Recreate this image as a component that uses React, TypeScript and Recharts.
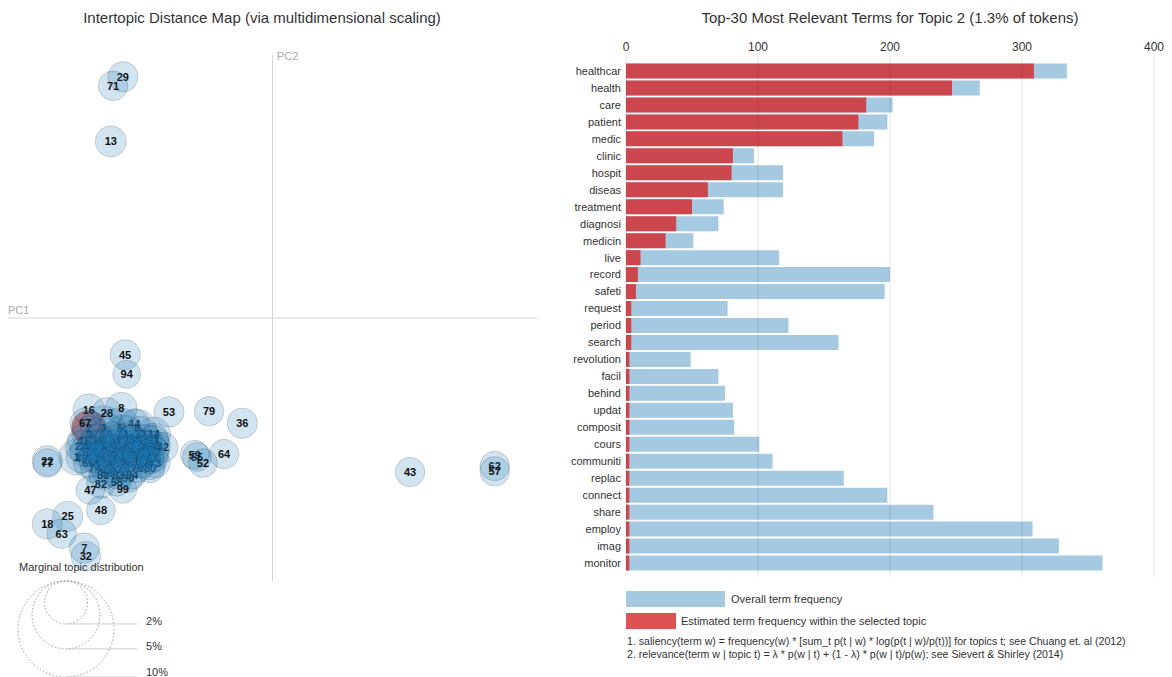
import React from 'react';
import { ScatterChart, Scatter, XAxis, YAxis, ZAxis, ReferenceLine, BarChart, Bar } from 'recharts';

const FONT = '"Liberation Sans", Arial, sans-serif';

// ---- intertopic distance map ----
// selected topic
const SELECTED = 2;
const selIds = [2];
const selPc1 = [-0.243];
const selPc2 = [-0.146];
const selShare = [1.3];

// topics touching the dense cluster (drawn before it)
const edgeIds = [1, 4, 31, 42, 66, 90, 82, 58, 99, 44];
const edgePc1 = [-0.259, -0.163, -0.158, -0.145, -0.219, -0.191, -0.227, -0.206, -0.198, -0.183];
const edgePc2 = [-0.185, -0.193, -0.16, -0.172, -0.206, -0.213, -0.221, -0.218, -0.228, -0.141];
const edgeShare = [1.4, 1.2, 1.0, 1.0, 0.9, 0.9, 0.9, 0.9, 0.85, 1.0];

// the dense cluster around (-0.2, -0.18)
const coreIds = [
  3, 5, 6, 9, 10, 11, 12, 14, 15, 17, 19, 20, 21, 23, 24, 26, 27, 30, 33, 34,
  35, 37, 38, 39, 40, 41, 46, 49, 50, 51, 54, 56, 60, 61, 65, 68, 69, 70, 72, 73,
  74, 75, 76, 78, 80, 81, 83, 84, 85, 86, 87, 88, 89, 91, 92, 93, 95, 96, 97, 98, 100,
];
const corePc1 = [
  -0.224, -0.202, -0.179, -0.242, -0.22, -0.197, -0.175, -0.157, -0.249, -0.231,
  -0.21, -0.19, -0.168, -0.158, -0.253, -0.237, -0.218, -0.199, -0.181, -0.162,
  -0.155, -0.248, -0.23, -0.213, -0.195, -0.175, -0.157, -0.253, -0.237, -0.22,
  -0.203, -0.186, -0.168, -0.158, -0.244, -0.227, -0.209, -0.19, -0.172, -0.155,
  -0.235, -0.216, -0.197, -0.179, -0.162, -0.224, -0.204, -0.186, -0.227, -0.204,
  -0.172, -0.242, -0.189, -0.168, -0.227, -0.181, -0.214, -0.197, -0.162, -0.21, -0.186,
];
const corePc2 = [
  -0.147, -0.147, -0.147, -0.154, -0.154, -0.154, -0.154, -0.154, -0.164, -0.164,
  -0.164, -0.164, -0.164, -0.164, -0.171, -0.171, -0.171, -0.171, -0.171, -0.171,
  -0.171, -0.178, -0.178, -0.178, -0.178, -0.178, -0.178, -0.186, -0.186, -0.186,
  -0.186, -0.186, -0.186, -0.186, -0.193, -0.193, -0.193, -0.193, -0.193, -0.193,
  -0.2, -0.2, -0.2, -0.2, -0.2, -0.209, -0.209, -0.209, -0.167, -0.167,
  -0.167, -0.175, -0.175, -0.175, -0.182, -0.182, -0.189, -0.189, -0.189, -0.16, -0.16,
];
const coreShare = [
  2.2, 1.9, 1.6, 1.4, 1.8, 1.5, 1.3, 1.2, 1.2, 1.3,
  1.6, 1.2, 1.2, 1.1, 1.1, 1.1, 1.4, 1.8, 1.2, 1.1,
  1.0, 1.0, 1.0, 1.3, 1.0, 1.1, 1.0, 1.0, 1.0, 1.0,
  1.0, 1.0, 0.95, 0.95, 0.95, 0.95, 0.95, 0.95, 0.95, 0.95,
  0.9, 0.9, 0.9, 0.9, 0.9, 0.9, 0.9, 0.85, 0.85, 0.85,
  0.85, 0.85, 0.85, 0.85, 0.85, 0.8, 0.8, 0.8, 0.8, 0.8, 0.8,
];

// outlying topics (drawn last)
const outerIds = [16, 28, 8, 67, 29, 71, 13, 45, 94, 53, 79, 36, 55, 59, 52, 64, 22, 77, 47, 48, 25, 18, 63, 7, 32, 43, 62, 57];
const outerPc1 = [
  -0.243, -0.219, -0.2, -0.248, -0.198, -0.211, -0.214, -0.195, -0.193, -0.137,
  -0.084, -0.04, -0.1, -0.103, -0.092, -0.064, -0.298, -0.298, -0.241, -0.227,
  -0.271, -0.298, -0.279, -0.249, -0.247, 0.182, 0.294, 0.294,
];
const outerPc2 = [
  -0.122, -0.126, -0.12, -0.14, 0.321, 0.309, 0.235, -0.049, -0.075, -0.125,
  -0.124, -0.14, -0.185, -0.182, -0.193, -0.181, -0.19, -0.193, -0.229, -0.256,
  -0.264, -0.274, -0.287, -0.306, -0.317, -0.205, -0.197, -0.204,
];
const outerShare = [
  1.1, 1.0, 1.1, 1.0, 1.0, 0.95, 1.05, 1.0, 0.85, 1.0,
  0.95, 1.0, 0.9, 0.9, 0.9, 0.95, 1.0, 0.9, 0.9, 0.9,
  1.0, 1.0, 0.95, 1.0, 0.95, 0.95, 0.95, 0.95,
];
const sizeLegend = [2, 5, 10];

// ---- top-30 terms for topic 2 ----
const terms = [
  'healthcar', 'health', 'care', 'patient', 'medic', 'clinic', 'hospit', 'diseas', 'treatment', 'diagnosi',
  'medicin', 'live', 'record', 'safeti', 'request', 'period', 'search', 'revolution', 'facil', 'behind',
  'updat', 'composit', 'cours', 'communiti', 'replac', 'connect', 'share', 'employ', 'imag', 'monitor',
];
const overallFreq = [
  334, 268, 202, 198, 188, 97, 119, 119, 74, 70,
  51, 116, 200, 196, 77, 123, 161, 49, 70, 75,
  81, 82, 101, 111, 165, 198, 233, 308, 328, 361,
];
const topicFreq = [
  309, 247, 182, 176, 164, 81, 80, 62, 50, 38,
  30, 11, 9, 7.5, 4, 4, 4, 2.6, 2.6, 2.6,
  2.6, 2.6, 2.5, 2.5, 2.5, 2.5, 2.5, 2.5, 2.5, 2.5,
];
const freqTicks = [0, 100, 200, 300, 400];

const toRows = (ids: number[], xs: number[], ys: number[], share: number[]) =>
  ids.map((t, i) => ({ topic: t, x: xs[i], y: ys[i], freq: share[i] }));
const selRows = toRows(selIds, selPc1, selPc2, selShare);
const edgeRows = toRows(edgeIds, edgePc1, edgePc2, edgeShare);
const coreRows = toRows(coreIds, corePc1, corePc2, coreShare);
const outerRows = toRows(outerIds, outerPc1, outerPc2, outerShare);
const termRows = terms.map((term, i) => ({ term, overall: overallFreq[i], topic: topicFreq[i] }));

const MAX_R = 48; // radius of a 10% circle
const MAX_AREA = Math.PI * MAX_R * MAX_R;
const radiusFor = (pct: number) => MAX_R * Math.sqrt(pct / 10);

const bubble = (withCircle: boolean, withLabel: boolean) => (props: any) => {
  const { cx, cy, payload } = props;
  const r = props.size != null ? Math.sqrt(props.size / Math.PI) : props.width / 2;
  const sel = payload.topic === SELECTED;
  return (
    <g>
      {withCircle && (
        <circle cx={cx} cy={cy} r={r} fill={sel ? '#d62728' : '#1f77b4'} fillOpacity={sel ? 0.6 : 0.2}
          stroke="#000" strokeOpacity={0.15} strokeWidth={1} />
      )}
      {withLabel && (
        <text x={cx} y={cy} dy="0.35em" textAnchor="middle" fontSize={11} fontWeight="bold"
          fill="#111" fontFamily={FONT}>{payload.topic}</text>
      )}
    </g>
  );
};
const Bubble = bubble(true, true);
const LabelOnly = bubble(false, true);
const CircleOnly = bubble(true, false);

export default function App() {
  const legendTop = 581;
  const legendCx = 66;
  return (
    <div style={{ position: 'absolute', left: 0, top: 0, width: 1172, height: 677, background: '#fff', fontFamily: FONT }}>
      <div style={{ position: 'absolute', left: 0, top: 0 }}>
        <ScatterChart width={545} height={600} margin={{ top: 55, right: 8, bottom: 19, left: 8 }}>
          <XAxis type="number" dataKey="x" domain={[-0.35, 0.35]} allowDataOverflow hide />
          <YAxis type="number" dataKey="y" domain={[-0.35, 0.35]} allowDataOverflow hide />
          <ZAxis type="number" dataKey="freq" domain={[0, 10]} range={[0, MAX_AREA]} />
          <ReferenceLine x={0} stroke="#d4d4d4" />
          <ReferenceLine y={0} stroke="#d4d4d4" />
          <Scatter data={selRows} shape={Bubble} isAnimationActive={false} />
          <Scatter data={edgeRows} shape={Bubble} isAnimationActive={false} />
          {/* labels of the dense cluster sit under its circles, as in the original */}
          <Scatter data={coreRows} shape={LabelOnly} isAnimationActive={false} />
          <Scatter data={coreRows} shape={CircleOnly} isAnimationActive={false} />
          <Scatter data={outerRows} shape={Bubble} isAnimationActive={false} />
        </ScatterChart>
      </div>

      <div style={{ position: 'absolute', left: 560, top: 30 }}>
        <BarChart width={612} height={560} layout="vertical" data={termRows}
          margin={{ top: 5.5, right: 18, bottom: 12.5, left: 0 }} barGap={-15} barSize={15}>
          <XAxis type="number" orientation="top" domain={[0, 400]} ticks={freqTicks} axisLine={false}
            tickLine={false} tickSize={0} tickMargin={5} height={20} tick={{ fontSize: 12, fill: '#333' }} />
          <YAxis type="category" dataKey="term" width={66} axisLine={false} tickLine={false} tickSize={0}
            tickMargin={5} interval={0} padding={{ top: 7, bottom: 6 }} tick={{ fontSize: 11, fill: '#333' }} />
          <Bar dataKey="overall" fill="#1f77b4" fillOpacity={0.4} isAnimationActive={false} />
          <Bar dataKey="topic" fill="#d62728" fillOpacity={0.8} isAnimationActive={false} />
          {freqTicks.map((v) => (
            <ReferenceLine key={v} x={v} stroke="#000" strokeOpacity={0.1} />
          ))}
        </BarChart>
      </div>

      <svg width={1172} height={677} style={{ position: 'absolute', left: 0, top: 0, pointerEvents: 'none' }}
        fontFamily={FONT}>
        <text x={262} y={23} textAnchor="middle" fontSize={15} fill="#333">
          Intertopic Distance Map (via multidimensional scaling)
        </text>
        <text x={890} y={23} textAnchor="middle" fontSize={15} fill="#333">
          Top-30 Most Relevant Terms for Topic 2 (1.3% of tokens)
        </text>
        <text x={8} y={314} fontSize={11} fill="#aaa">PC1</text>
        <text x={277} y={60} fontSize={11} fill="#aaa">PC2</text>

        <text x={19} y={571} fontSize={11} fill="#333">Marginal topic distribution</text>
        {sizeLegend.map((p) => {
          const r = radiusFor(p);
          const bottom = legendTop + 2 * r;
          return (
            <g key={p}>
              <circle cx={legendCx} cy={legendTop + r} r={r} fill="none" stroke="#999" strokeDasharray="1.5 2" />
              <line x1={legendCx} x2={137} y1={bottom} y2={bottom} stroke="#ccc" />
              <text x={146} y={Math.min(bottom + 1, 676)} fontSize={11} fill="#333">{p}%</text>
            </g>
          );
        })}

        <rect x={626} y={591} width={99} height={16} fill="#1f77b4" fillOpacity={0.4} />
        <text x={731} y={603} fontSize={11} fill="#333">Overall term frequency</text>
        <rect x={626} y={613} width={50} height={16} fill="#d62728" fillOpacity={0.8} />
        <text x={681} y={625} fontSize={11} fill="#333">Estimated term frequency within the selected topic</text>
        <text x={627} y={645} fontSize={10.6} fill="#333">
          1. saliency(term w) = frequency(w) * [sum_t p(t | w) * log(p(t | w)/p(t))] for topics t; see Chuang et. al (2012)
        </text>
        <text x={627} y={658} fontSize={10.6} fill="#333">
          2. relevance(term w | topic t) = λ * p(w | t) + (1 - λ) * p(w | t)/p(w); see Sievert &amp; Shirley (2014)
        </text>
      </svg>
    </div>
  );
}
